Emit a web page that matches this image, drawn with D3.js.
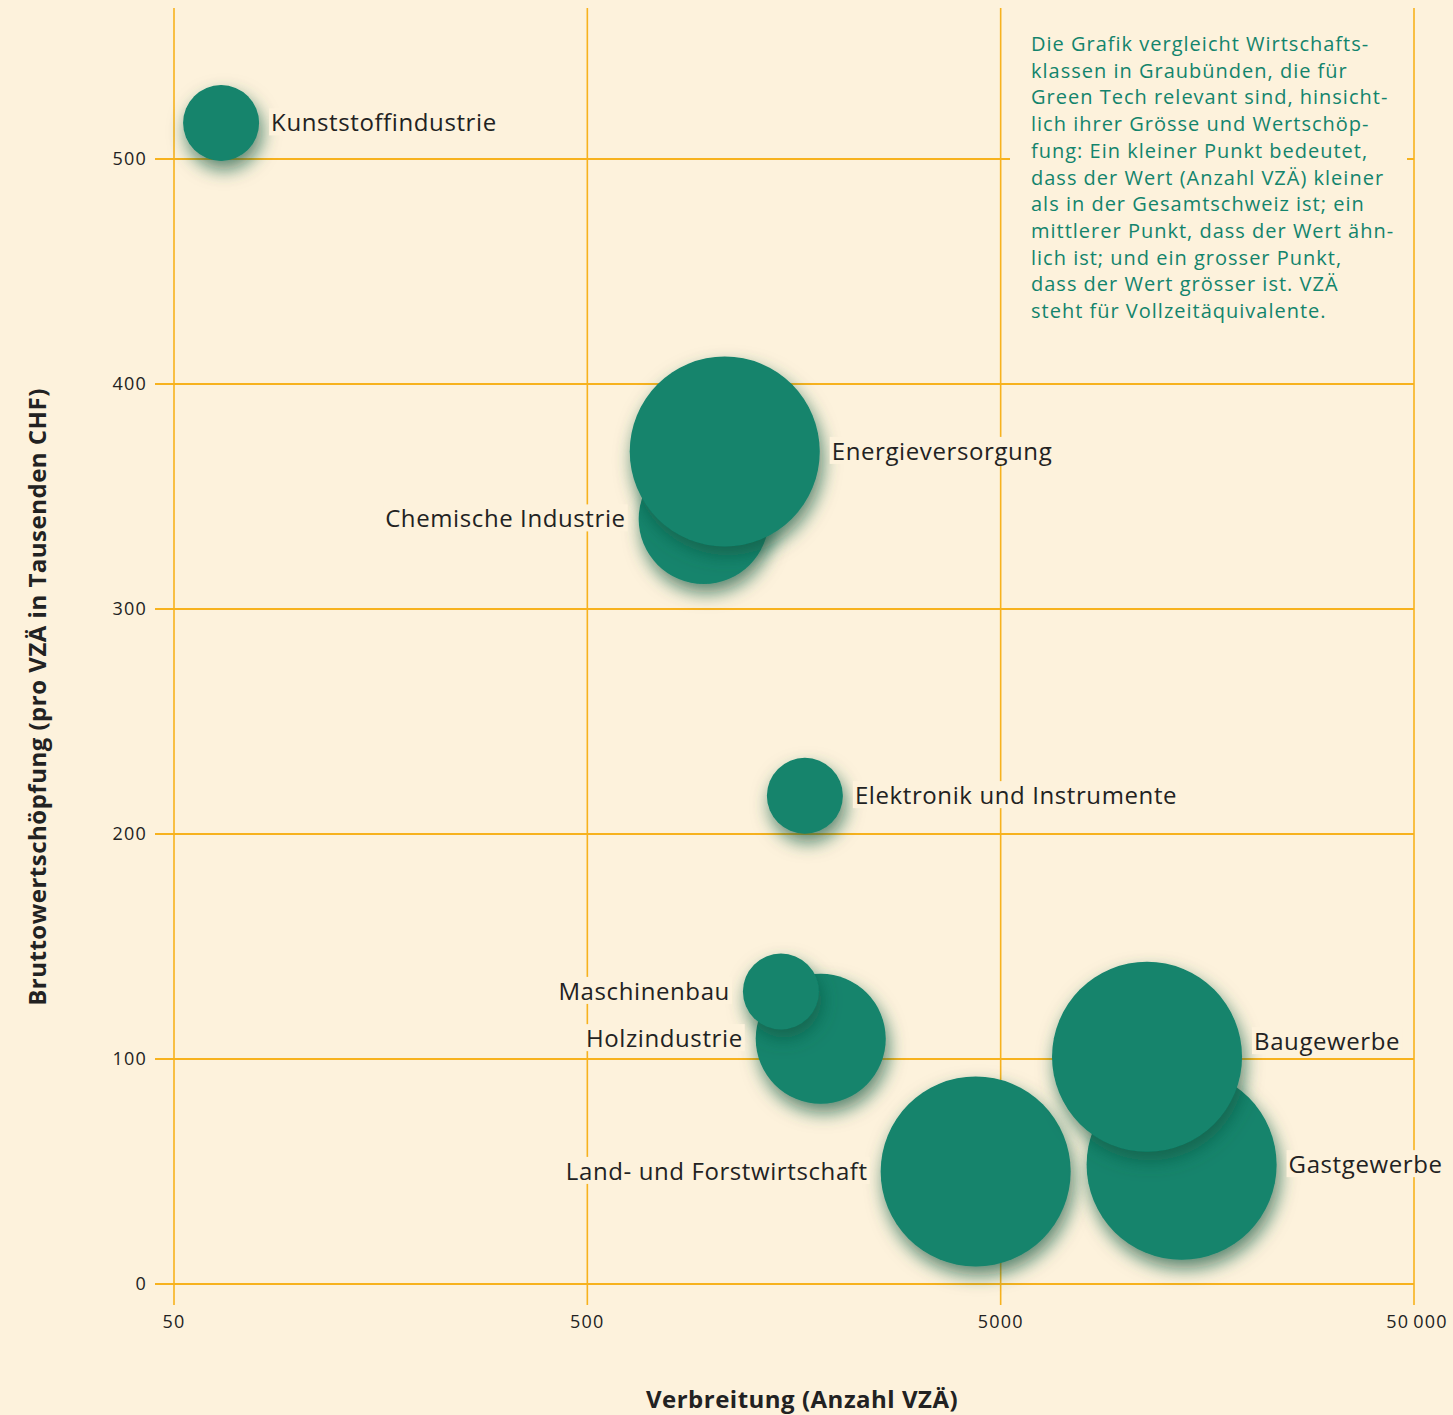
<!DOCTYPE html>
<html>
<head>
<meta charset="utf-8">
<script src="https://cdn.jsdelivr.net/npm/d3@7"></script>
<style>
  body { margin: 0; background: #fdf2dc; }
  svg { display: block; font-family: "Open Sans", "Lato", sans-serif; }
</style>
</head>
<body>
<svg width="1453" height="1415"></svg>
<script>
// Wirtschaftsklassen Graubünden (Green Tech)
const branchen = ["Chemische Industrie", "Energieversorgung", "Kunststoffindustrie",
  "Elektronik und Instrumente", "Holzindustrie", "Maschinenbau",
  "Land- und Forstwirtschaft", "Gastgewerbe", "Baugewerbe"];
const vzae = [956, 1075, 65, 1680, 1835, 1470, 4350, 13700, 11300];
const wertschoepfung = [340, 370, 516, 217, 109, 130, 50, 53, 101];
// 1 = kleiner als CH, 2 = ähnlich, 3 = grösser
const groesse = [2, 3, 1, 1, 2, 1, 3, 3, 3];
const labelSeite = ["links", "rechts", "rechts", "rechts", "links", "links", "links", "rechts", "rechts"];

const xTicks = [50, 500, 5000, 50000];
const xTickLabels = ["50", "500", "5000", "50\u2009000"];
const yTicks = [0, 100, 200, 300, 400, 500];

const infoText = [
  "Die Grafik vergleicht Wirtschafts-",
  "klassen in Graubünden, die für",
  "Green Tech relevant sind, hinsicht-",
  "lich ihrer Grösse und Wertschöp-",
  "fung: Ein kleiner Punkt bedeutet,",
  "dass der Wert (Anzahl VZÄ) kleiner",
  "als in der Gesamtschweiz ist; ein",
  "mittlerer Punkt, dass der Wert ähn-",
  "lich ist; und ein grosser Punkt,",
  "dass der Wert grösser ist. VZÄ",
  "steht für Vollzeitäquivalente."
];

const bg = "#fdf2dc", gridCol = "#f7b21e", green = "#13846c", ink = "#222";

const svg = d3.select("svg");
const x = d3.scaleLog().domain([50, 50000]).range([174, 1414]);
const y = d3.scaleLinear().domain([0, 500]).range([1284, 159]);
const r = d3.scaleOrdinal().domain([1, 2, 3]).range([38, 65, 95]);

const defs = svg.append("defs");
const f = defs.append("filter").attr("id", "shadow")
  .attr("x", "-50%").attr("y", "-50%").attr("width", "200%").attr("height", "200%");
f.append("feDropShadow").attr("dx", 3).attr("dy", 9).attr("stdDeviation", 9)
  .attr("flood-color", "#0a5842").attr("flood-opacity", 0.7);

svg.append("rect").attr("width", 1453).attr("height", 1415).attr("fill", bg);

// grid
const grid = svg.append("g");
grid.selectAll(".h").data(yTicks).join("line")
  .attr("x1", 155).attr("x2", 1414)
  .attr("y1", d => y(d)).attr("y2", d => y(d))
  .attr("stroke", gridCol).attr("stroke-width", 2);
grid.selectAll(".v").data(xTicks).join("line")
  .attr("x1", d => x(d)).attr("x2", d => x(d))
  .attr("y1", 8).attr("y2", 1305)
  .attr("stroke", gridCol).attr("stroke-width", 1.6);

// tick labels
svg.append("g").selectAll("text").data(yTicks).join("text")
  .attr("x", 147).attr("y", d => y(d)).attr("dy", "0.35em")
  .attr("text-anchor", "end").attr("font-size", 18).attr("fill", ink)
  .attr("letter-spacing", 1.2)
  .text(d => d);
svg.append("g").selectAll("text").data(xTicks).join("text")
  .attr("x", (d, i) => x(d) + (i === 3 ? 3 : 0)).attr("y", 1322).attr("dy", "0.35em")
  .attr("text-anchor", "middle").attr("font-size", 18).attr("fill", ink)
  .attr("letter-spacing", 1.2)
  .text((d, i) => xTickLabels[i]);

// axis titles
svg.append("text").attr("x", 802).attr("y", 1400).attr("dy", "0.35em")
  .attr("text-anchor", "middle").attr("font-size", 24).attr("font-weight", "bold")
  .attr("fill", ink).attr("letter-spacing", 0.5).text("Verbreitung (Anzahl VZÄ)");
svg.append("text").attr("transform", "translate(38,697) rotate(-90)").attr("dy", "0.35em")
  .attr("text-anchor", "middle").attr("font-size", 24).attr("font-weight", "bold")
  .attr("fill", ink).attr("letter-spacing", 0.5).text("Bruttowertschöpfung (pro VZÄ in Tausenden CHF)");

// info box
svg.append("rect").attr("x", 1010).attr("y", 9).attr("width", 397).attr("height", 322).attr("fill", bg);
svg.append("text").attr("font-size", 20).attr("fill", green).attr("letter-spacing", 1.0)
  .selectAll("tspan").data(infoText).join("tspan")
  .attr("x", 1031).attr("y", (d, i) => 51 + i * 26.7)
  .text(d => d);

// bubbles
const data = branchen.map((name, i) => ({
  name, x: vzae[i], y: wertschoepfung[i], g: groesse[i], side: labelSeite[i]
}));

svg.append("g").selectAll("circle").data(data).join("circle")
  .attr("cx", d => x(d.x)).attr("cy", d => y(d.y)).attr("r", d => r(d.g))
  .attr("fill", green).attr("filter", "url(#shadow)");

// labels with background
const lab = svg.append("g").selectAll("g").data(data).join("g");
lab.append("rect").attr("fill", bg);
lab.append("text")
  .attr("x", d => d.side === "rechts" ? x(d.x) + r(d.g) + 12 : x(d.x) - r(d.g) - 13)
  .attr("y", d => y(d.y) + (d.name === "Baugewerbe" ? -15 : 0))
  .attr("dy", "0.35em")
  .attr("text-anchor", d => d.side === "rechts" ? "start" : "end")
  .attr("font-size", 24).attr("fill", ink).attr("letter-spacing", 0.6)
  .text(d => d.name);
lab.each(function () {
  const g = d3.select(this);
  const b = g.select("text").node().getBBox();
  g.select("rect").attr("x", b.x - 2).attr("y", b.y + 3).attr("width", b.width + 4).attr("height", b.height - 6);
});
</script>
</body>
</html>
